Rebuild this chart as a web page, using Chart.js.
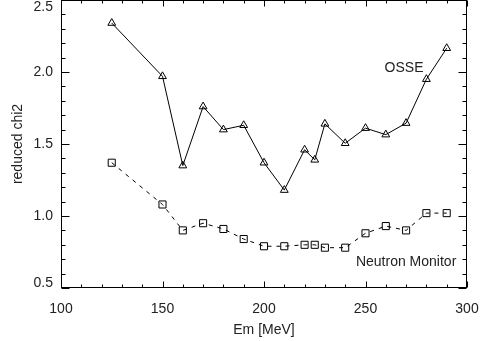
<!DOCTYPE html>
<html>
<head>
<meta charset="utf-8">
<script src="https://cdn.jsdelivr.net/npm/chart.js@4"></script>
<style>
html,body{margin:0;padding:0;background:#fff;overflow:hidden;}
canvas{display:block;}
</style>
</head>
<body>
<canvas id="c" width="482" height="341"></canvas>
<script>
const energies = [125, 150, 160, 170, 180, 190, 200, 210, 220, 225, 230, 240, 250, 260, 270, 280, 290];
const osse     = [2.34, 1.97, 1.35, 1.76, 1.60, 1.63, 1.37, 1.18, 1.46, 1.39, 1.64, 1.505, 1.61, 1.565, 1.645, 1.95, 2.165];
const neutron  = [1.37, 1.08, 0.90, 0.95, 0.91, 0.84, 0.79, 0.79, 0.80, 0.80, 0.78, 0.78, 0.88, 0.93, 0.90, 1.02, 1.02];
const xTicks = [100, 150, 200, 250, 300];
const yTicks = [0.5, 1.0, 1.5, 2.0, 2.5];
const seriesLabels = ['OSSE', 'Neutron Monitor'];
const labelPos = [[269, 2.03], [270, 0.68]];

const FONT = '"Liberation Sans", Arial, Helvetica, sans-serif';
const INK = '#222';

const framePlugin = {
  id: 'frame',
  afterDraw(chart) {
    const ctx = chart.ctx;
    const a = chart.chartArea;
    const xs = chart.scales.x, ys = chart.scales.y;
    ctx.save();
    ctx.strokeStyle = '#000';
    ctx.lineWidth = 1;
    const L = Math.round(a.left) + 0.5, R = Math.round(a.right) - 0.5;
    const T = Math.round(a.top) + 0.5, B = Math.round(a.bottom) - 0.5;
    ctx.strokeRect(L, T, R - L, B - T);
    ctx.beginPath();
    for (let v = xs.min; v <= xs.max + 1e-9; v += 10) {
      const px = Math.round(xs.getPixelForValue(v)) + 0.5;
      const len = xTicks.includes(v) ? 6 : 3;
      ctx.moveTo(px, B); ctx.lineTo(px, B - len);
      ctx.moveTo(px, T); ctx.lineTo(px, T + len);
    }
    for (let i = 0; i <= 20; i++) {
      const v = ys.min + i * 0.1;
      const py = Math.round(ys.getPixelForValue(v)) + 0.5;
      const len = i % 5 === 0 ? 8 : 4;
      ctx.moveTo(L, py); ctx.lineTo(L + len, py);
      ctx.moveTo(R, py); ctx.lineTo(R - len, py);
    }
    ctx.stroke();
    ctx.fillStyle = INK;
    ctx.font = '14px ' + FONT;
    ctx.textAlign = 'right';
    ctx.textBaseline = 'middle';
    yTicks.forEach(v => {
      let py = ys.getPixelForValue(v);
      py = Math.min(Math.max(py, a.top + 7), a.bottom - 5);
      ctx.fillText(v.toFixed(1), a.left - 8, py);
    });
    ctx.textAlign = 'center';
    ctx.textBaseline = 'alphabetic';
    xTicks.forEach(v => {
      ctx.fillText(String(v), xs.getPixelForValue(v), a.bottom + 25);
    });
    ctx.textBaseline = 'middle';
    seriesLabels.forEach((t, i) => {
      ctx.fillText(t, xs.getPixelForValue(labelPos[i][0]), ys.getPixelForValue(labelPos[i][1]));
    });
    ctx.restore();
  }
};

new Chart(document.getElementById('c'), {
  type: 'line',
  data: {
    datasets: [
      {
        label: seriesLabels[0],
        data: energies.map((e, i) => ({x: e, y: osse[i]})),
        borderColor: '#000',
        borderWidth: 1,
        pointStyle: 'triangle',
        pointRadius: 4.5,
        pointBorderWidth: 1,
        pointBorderColor: '#000',
        pointBackgroundColor: 'rgba(0,0,0,0)',
        tension: 0,
        fill: false
      },
      {
        label: seriesLabels[1],
        data: energies.map((e, i) => ({x: e, y: neutron[i]})),
        borderColor: '#000',
        borderWidth: 1,
        borderDash: [4, 5],
        pointStyle: 'rect',
        pointRadius: 5,
        pointBorderWidth: 1,
        pointBorderColor: '#000',
        pointBackgroundColor: 'rgba(0,0,0,0)',
        tension: 0,
        fill: false
      }
    ]
  },
  options: {
    responsive: false,
    animation: false,
    layout: {autoPadding: false, padding: {top: 0, right: 15, bottom: 0, left: 0}},
    plugins: {legend: {display: false}, tooltip: {enabled: false}},
    scales: {
      x: {
        type: 'linear',
        min: 100, max: 300,
        grid: {display: false, drawTicks: false},
        border: {display: false},
        ticks: {display: false, stepSize: 50},
        afterFit: s => { s.height = 53; },
        title: {display: true, text: 'Em [MeV]', color: INK, font: {family: FONT, size: 14}, padding: {top: 0, bottom: 2}}
      },
      y: {
        type: 'linear',
        min: 0.5, max: 2.5,
        grid: {display: false, drawTicks: false},
        border: {display: false},
        ticks: {display: false, stepSize: 0.5},
        afterFit: s => { s.width = 61; },
        title: {display: true, text: 'reduced chi2', color: INK, font: {family: FONT, size: 14}, padding: {top: 10, bottom: 0}}
      }
    }
  },
  plugins: [framePlugin]
});
</script>
</body>
</html>
